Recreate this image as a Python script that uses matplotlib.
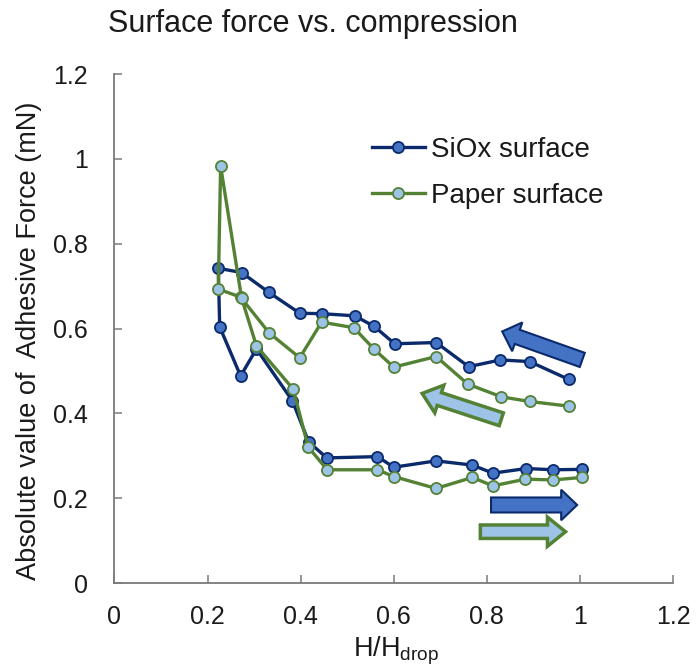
import matplotlib
matplotlib.use("Agg")
import matplotlib.pyplot as plt

plt.rcParams["font.family"] = ["Liberation Sans", "DejaVu Sans"]

# Normalised height H/H_drop and |adhesive force| (mN); each series runs along
# the compression branch (right to left) and then back along retraction.
siox_h = [0.976, 0.892, 0.829, 0.761, 0.691, 0.602, 0.558, 0.516, 0.445, 0.398,
          0.332, 0.273, 0.223, 0.226, 0.271, 0.305, 0.382, 0.417, 0.456, 0.565,
          0.600, 0.691, 0.769, 0.813, 0.885, 0.942, 1.005]
siox_force = [0.480, 0.522, 0.526, 0.510, 0.567, 0.564, 0.605, 0.630, 0.635, 0.636,
              0.685, 0.732, 0.742, 0.604, 0.488, 0.552, 0.430, 0.333, 0.295, 0.298,
              0.273, 0.288, 0.278, 0.259, 0.270, 0.267, 0.268]

paper_h = [0.976, 0.892, 0.831, 0.759, 0.691, 0.600, 0.558, 0.514, 0.445, 0.398,
           0.332, 0.271, 0.223, 0.228, 0.273, 0.305, 0.384, 0.416, 0.457, 0.565,
           0.600, 0.691, 0.769, 0.813, 0.883, 0.942, 1.005]
paper_force = [0.417, 0.428, 0.439, 0.469, 0.534, 0.509, 0.551, 0.602, 0.615, 0.531,
               0.590, 0.674, 0.693, 0.983, 0.672, 0.559, 0.457, 0.321, 0.267, 0.267,
               0.251, 0.223, 0.249, 0.229, 0.245, 0.243, 0.249]

ticks = [0, 0.2, 0.4, 0.6, 0.8, 1, 1.2]
tick_labels = ["0", "0.2", "0.4", "0.6", "0.8", "1", "1.2"]

NAVY = "#0b2a6b"
BLUE = "#4472c4"
GREEN = "#548235"
LIGHT_BLUE = "#9dc3e6"
AXIS_GREY = "#7a7a7a"
TEXT = "#1a1a1a"

fig = plt.figure(figsize=(6.96, 6.71), dpi=100)
ax = fig.add_axes([0.1645, 0.1311, 0.8025, 0.7586])

ax.plot(siox_h, siox_force, "-o", color=NAVY, lw=2.4, ms=8,
        mfc=BLUE, mec=NAVY, mew=1.3, label="SiOx surface", zorder=3)
ax.plot(paper_h, paper_force, "-o", color=GREEN, lw=2.4, ms=8,
        mfc=LIGHT_BLUE, mec=GREEN, mew=1.3, label="Paper surface", zorder=4)


def block_arrow(tail, tip, face, edge, lw, shaft, head_w, head_l):
    ax.annotate("", xy=tip, xytext=tail, zorder=5,
                arrowprops=dict(
                    arrowstyle=f"simple,head_length={head_l},head_width={head_w},"
                               f"tail_width={shaft}",
                    mutation_scale=10, shrinkA=0, shrinkB=0,
                    fc=face, ec=edge, lw=lw, joinstyle="miter"))


# compression direction (upper branch) and retraction direction (lower branch)
block_arrow((1.005, 0.526), (0.833, 0.593), BLUE, NAVY, 1.5, 1.08, 2.2, 1.15)
block_arrow((0.831, 0.386), (0.661, 0.447), LIGHT_BLUE, GREEN, 2.5, 0.97, 2.1, 1.3)
block_arrow((0.809, 0.184), (0.994, 0.184), BLUE, NAVY, 1.5, 1.08, 2.2, 1.15)
block_arrow((0.786, 0.121), (0.969, 0.121), LIGHT_BLUE, GREEN, 2.5, 0.97, 2.1, 1.3)

ax.set_xlim(0, 1.2)
ax.set_ylim(0, 1.2)
ax.set_xticks(ticks)
ax.set_xticklabels(tick_labels)
ax.set_yticks(ticks)
ax.set_yticklabels(tick_labels)
for side in ("top", "right"):
    ax.spines[side].set_visible(False)
for side in ("left", "bottom"):
    ax.spines[side].set_color(AXIS_GREY)
    ax.spines[side].set_linewidth(1.3)
ax.tick_params(axis="both", direction="in", length=6, width=1.1,
               color=AXIS_GREY, labelsize=18, labelcolor=TEXT)
ax.tick_params(axis="y", pad=19)
ax.tick_params(axis="x", pad=15.5)

ax.set_xlabel("H/H$_{\\mathregular{drop}}$", fontsize=19.5, color=TEXT)
ax.xaxis.set_label_coords(0.504, -0.102)
ax.set_ylabel("Absolute value of  Adhesive Force (mN)", fontsize=19.5, color=TEXT)
ax.yaxis.set_label_coords(-0.13, 0.475)

leg = ax.legend(loc="upper left", bbox_to_anchor=(0.461, 0.876), frameon=False,
                fontsize=20, handlelength=1.9, handletextpad=0.22,
                labelspacing=0.72, borderpad=0, borderaxespad=0)
for t in leg.get_texts():
    t.set_color(TEXT)

fig.text(108 / 696, 1 - 32 / 671, "Surface force vs. compression",
         fontsize=22, color=TEXT, ha="left", va="baseline")

fig.savefig("out.png", dpi=100)
